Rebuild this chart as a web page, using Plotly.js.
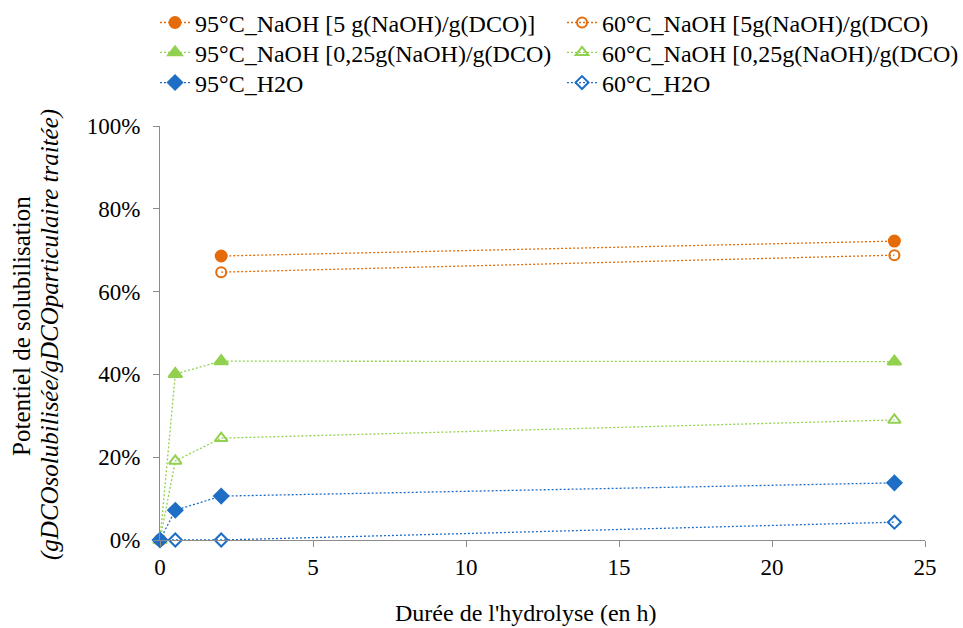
<!DOCTYPE html>
<html>
<head>
<meta charset="utf-8">
<script src="https://cdn.plot.ly/plotly-3.0.1.min.js"></script>
<style>html,body{margin:0;padding:0;background:#fff;}#chart{width:963px;height:628px;}</style>
</head>
<body>
<div id="chart"></div>
<script>
// Durée (h)
const hours = [0, 0.5, 2, 24];
// Potentiel de solubilisation (fraction)
const naoh5_95 = [0, null, 0.686, 0.722];
const naoh5_60 = [0, null, 0.647, 0.688];
const naoh025_95 = [0, 0.401, 0.432, 0.431];
const naoh025_60 = [0, 0.191, 0.246, 0.290];
const h2o_95 = [0, 0.072, 0.106, 0.138];
const h2o_60 = [0, 0.0, 0.0, 0.043];

const names = [
  "95°C_NaOH [5 g(NaOH)/g(DCO)]",
  "60°C_NaOH [5g(NaOH)/g(DCO)",
  "95°C_NaOH [0,25g(NaOH)/g(DCO)",
  "60°C_NaOH [0,25g(NaOH)/g(DCO)",
  "95°C_H2O",
  "60°C_H2O"
];
const yTitle1 = "Potentiel de solubilisation";
const yTitle2 = "(gDCOsolubilisée/gDCOparticulaire traitée)";
const xTitle = "Durée de l'hydrolyse (en h)";

const orange = "#E46C0A", green = "#92D050", blue = "#1E6EC6";
const FAM = "'Liberation Serif', 'Times New Roman', serif";

function tr(name, y, color, symbol, size, legend) {
  return {
    x: hours, y: y, name: name, type: "scatter", mode: "lines+markers",
    connectgaps: false, legend: legend,
    line: {color: color, width: 1.3, dash: "2px,2px"},
    marker: {color: color, symbol: symbol, size: size, line: {color: color, width: 2}},
    cliponaxis: false
  };
}

const data = [
  tr(names[0], naoh5_95, orange, "circle", 11, "legend"),
  tr(names[1], naoh5_60, orange, "circle-open", 10, "legend2"),
  tr(names[2], naoh025_95, green, "triangle-up", 12, "legend3"),
  tr(names[3], naoh025_60, green, "triangle-up-open", 11, "legend4"),
  tr(names[4], h2o_95, blue, "diamond", 11, "legend5"),
  tr(names[5], h2o_60, blue, "diamond-open", 10, "legend6")
];

function leg(xl, yc) {
  return {
    orientation: "v", x: xl, y: yc, xanchor: "left", yanchor: "middle",
    font: {family: FAM, size: 24, color: "#000"},
    itemwidth: 30, bgcolor: "rgba(0,0,0,0)"
  };
}
const colL = -0.0065, colR = 0.5255;
const rowY = [1.249, 1.177, 1.104];

const layout = {
  width: 963, height: 628,
  margin: {l: 160, r: 38, t: 126, b: 88, autoexpand: false},
  paper_bgcolor: "#fff", plot_bgcolor: "#fff",
  font: {family: FAM, size: 23, color: "#000"},
  showlegend: true,
  legend: leg(colL, rowY[0]),
  legend2: leg(colR, rowY[0]),
  legend3: leg(colL, rowY[1]),
  legend4: leg(colR, rowY[1]),
  legend5: leg(colL, rowY[2]),
  legend6: leg(colR, rowY[2]),
  xaxis: {
    range: [0, 25], tickvals: [0, 5, 10, 15, 20, 25],
    showgrid: false, zeroline: false,
    showline: true, linecolor: "#8c8c8c", linewidth: 1,
    ticks: "outside", ticklen: 6, tickcolor: "#8c8c8c",
    tickfont: {family: FAM, size: 23, color: "#000"}
  },
  yaxis: {
    range: [0, 1], tickvals: [0, 0.2, 0.4, 0.6, 0.8, 1], tickformat: ".0%",
    showgrid: false, zeroline: false,
    showline: true, linecolor: "#8c8c8c", linewidth: 1,
    ticks: "outside", ticklen: 6, tickcolor: "#8c8c8c", ticklabelstandoff: 8,
    tickfont: {family: FAM, size: 23, color: "#000"}
  },
  annotations: [
    {text: xTitle, xref: "paper", yref: "paper", x: 0.479, y: -0.177,
     xanchor: "center", yanchor: "middle", showarrow: false,
     font: {family: FAM, size: 24, color: "#000"}},
    {text: yTitle1, xref: "paper", yref: "paper", x: -0.1804, y: 0.517,
     xanchor: "center", yanchor: "middle", showarrow: false, textangle: -90,
     font: {family: FAM, size: 25, color: "#000"}},
    {text: "<i>" + yTitle2 + "</i>", xref: "paper", yref: "paper", x: -0.1438, y: 0.4976,
     xanchor: "center", yanchor: "middle", showarrow: false, textangle: -90,
     font: {family: FAM, size: 25, color: "#000"}}
  ]
};

Plotly.newPlot("chart", data, layout, {displayModeBar: false, staticPlot: true});
</script>
</body>
</html>
